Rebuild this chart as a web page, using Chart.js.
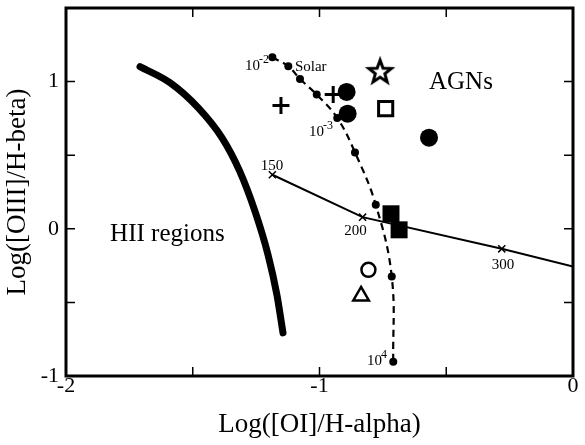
<!DOCTYPE html>
<html>
<head>
<meta charset="utf-8">
<script src="https://cdn.jsdelivr.net/npm/chart.js@4.4.1/dist/chart.umd.min.js"></script>
<style>
  html, body { margin: 0; padding: 0; background: #fff; }
  #wrap { width: 585px; height: 445px; }
</style>
</head>
<body>
<div id="wrap"><canvas id="bptChart"></canvas></div>
<script>
// HII region boundary (thick curve)
var hiiX = [-1.708, -1.590, -1.479, -1.385, -1.314, -1.254, -1.203, -1.168, -1.144];
var hiiY = [1.102, 0.993, 0.823, 0.619, 0.388, 0.116, -0.177, -0.449, -0.707];

// density / metallicity sequence (dashed curve with dots)
var seqX = [-1.186, -1.123, -1.077, -1.011, -0.930, -0.860, -0.778, -0.715, -0.709];
var seqY = [1.165, 1.104, 1.018, 0.912, 0.753, 0.519, 0.163, -0.324, -0.903];

// temperature sequence (solid line with x marks): 150, 200, 300, edge
var tempX = [-1.186, -0.830, -0.281, 0];
var tempY = [0.367, 0.079, -0.136, -0.256];

// observed objects
var plusX = [-1.152, -0.946];
var plusY = [0.837, 0.912];
var dotX = [-0.893, -0.889, -0.568];
var dotY = [0.930, 0.782, 0.619];
var openSqX = [-0.739];
var openSqY = [0.816];
var fillSqX = [-0.718, -0.686];
var fillSqY = [0.102, -0.007];
var starX = [-0.761];
var starY = [1.071];
var ringX = [-0.807];
var ringY = [-0.279];
var triX = [-0.836];
var triY = [-0.456];

// axis ticks
var xTicks = [-2, -1.5, -1, -0.5, 0];
var yTicks = [-1, -0.5, 0, 0.5, 1, 1.5];

// text labels: [x, y, text, superscript, align, size]
var notes = [
  [-1.294, 1.082, '10', '-2', 'left', 15],
  [-1.097, 1.075, 'Solar', '', 'left', 15],
  [-1.041, 0.628, '10', '-3', 'left', 15],
  [-0.813, -0.925, '10', '4', 'left', 15],
  [-1.187, 0.401, '150', '', 'center', 15],
  [-0.858, -0.041, '200', '', 'center', 15],
  [-0.276, -0.272, '300', '', 'center', 15],
  [-0.442, 0.952, 'AGNs', '', 'center', 25],
  [-1.600, -0.082, 'HII regions', '', 'center', 25]
];

function pts(xs, ys) {
  return xs.map(function (x, i) { return { x: x, y: ys[i] }; });
}

var serif = "'Liberation Serif', 'Times New Roman', serif";

// open five-point star marker
var starImg = document.createElement('canvas');
starImg.width = 30;
starImg.height = 30;
(function () {
  var c = starImg.getContext('2d');
  c.beginPath();
  for (var i = 0; i < 10; i++) {
    var r = i % 2 === 0 ? 12 : 5;
    var a = -Math.PI / 2 + i * Math.PI / 5;
    var px = 15 + r * Math.cos(a), py = 16 + r * Math.sin(a);
    if (i === 0) c.moveTo(px, py); else c.lineTo(px, py);
  }
  c.closePath();
  c.fillStyle = '#fff';
  c.fill();
  c.lineWidth = 3;
  c.lineJoin = 'miter';
  c.strokeStyle = '#000';
  c.stroke();
})();

var framePlugin = {
  id: 'frame',
  afterDraw: function (chart) {
    var ctx = chart.ctx, a = chart.chartArea;
    var xs = chart.scales.x, ys = chart.scales.y;
    ctx.save();
    ctx.strokeStyle = '#000';
    ctx.lineWidth = 1.5;
    xTicks.forEach(function (v) {
      var p = xs.getPixelForValue(v);
      ctx.beginPath();
      ctx.moveTo(p, a.bottom); ctx.lineTo(p, a.bottom - 9);
      ctx.moveTo(p, a.top); ctx.lineTo(p, a.top + 9);
      ctx.stroke();
    });
    yTicks.forEach(function (v) {
      var p = ys.getPixelForValue(v);
      ctx.beginPath();
      ctx.moveTo(a.left, p); ctx.lineTo(a.left + 9, p);
      ctx.moveTo(a.right, p); ctx.lineTo(a.right - 9, p);
      ctx.stroke();
    });
    ctx.lineWidth = 3;
    ctx.strokeRect(a.left, a.top, a.right - a.left, a.bottom - a.top);

    // text notes
    ctx.fillStyle = '#000';
    ctx.textBaseline = 'alphabetic';
    notes.forEach(function (n) {
      var px = xs.getPixelForValue(n[0]);
      var py = ys.getPixelForValue(n[1]);
      ctx.font = n[5] + 'px ' + serif;
      ctx.textAlign = n[4];
      ctx.fillText(n[2], px, py);
      if (n[3]) {
        var w = ctx.measureText(n[2]).width;
        var sx = n[4] === 'left' ? px + w : px + w / 2;
        ctx.font = Math.round(n[5] * 0.8) + 'px ' + serif;
        ctx.textAlign = 'left';
        ctx.fillText(n[3], sx - 1, py - 7);
      }
    });
    ctx.restore();
  }
};

var tickFont = { family: serif, size: 22 };

new Chart(document.getElementById('bptChart').getContext('2d'), {
  type: 'scatter',
  data: {
    datasets: [
      {
        label: 'HII',
        data: pts(hiiX, hiiY),
        showLine: true,
        borderColor: '#000',
        borderWidth: 7,
        borderCapStyle: 'round',
        cubicInterpolationMode: 'monotone',
        pointRadius: 0
      },
      {
        label: 'sequence',
        data: pts(seqX, seqY),
        showLine: true,
        borderColor: '#000',
        borderWidth: 2.2,
        borderDash: [7, 5],
        tension: 0.4,
        pointRadius: 4,
        pointBackgroundColor: '#000',
        pointBorderWidth: 0
      },
      {
        label: 'temperature',
        data: pts(tempX, tempY),
        showLine: true,
        borderColor: '#000',
        borderWidth: 2,
        tension: 0,
        pointStyle: 'crossRot',
        pointRadius: [5, 5, 5, 0],
        pointBorderWidth: 1.5,
        pointBorderColor: '#000'
      },
      {
        label: 'plus',
        data: pts(plusX, plusY),
        pointStyle: 'cross',
        pointRadius: 8.5,
        pointBorderWidth: 3,
        pointBorderColor: '#000'
      },
      {
        label: 'dots',
        data: pts(dotX, dotY),
        pointStyle: 'circle',
        pointRadius: 9,
        pointBackgroundColor: '#000',
        pointBorderWidth: 0
      },
      {
        label: 'open square',
        data: pts(openSqX, openSqY),
        pointStyle: 'rect',
        pointRadius: 10,
        pointBackgroundColor: '#fff',
        pointBorderColor: '#000',
        pointBorderWidth: 3
      },
      {
        label: 'filled squares',
        data: pts(fillSqX, fillSqY),
        pointStyle: 'rect',
        pointRadius: 12,
        pointBackgroundColor: '#000',
        pointBorderWidth: 0
      },
      {
        label: 'star',
        data: pts(starX, starY),
        pointStyle: starImg,
        pointRadius: 12
      },
      {
        label: 'ring',
        data: pts(ringX, ringY),
        pointStyle: 'circle',
        pointRadius: 7,
        pointBackgroundColor: '#fff',
        pointBorderColor: '#000',
        pointBorderWidth: 2.5
      },
      {
        label: 'triangle',
        data: pts(triX, triY),
        pointStyle: 'triangle',
        pointRadius: 9,
        pointBackgroundColor: '#fff',
        pointBorderColor: '#000',
        pointBorderWidth: 2.5
      }
    ]
  },
  options: {
    responsive: true,
    maintainAspectRatio: false,
    animation: false,
    layout: { autoPadding: false, padding: { top: 8, right: 12, left: 0, bottom: 0 } },
    plugins: {
      legend: { display: false },
      tooltip: { enabled: false }
    },
    scales: {
      x: {
        type: 'linear',
        min: -2,
        max: 0,
        afterFit: function (s) { s.height = 69; s.paddingLeft = 0; s.paddingRight = 0; },
        afterBuildTicks: function (s) { s.ticks = xTicks.map(function (v) { return { value: v }; }); },
        grid: { display: false, drawTicks: false },
        border: { display: false },
        ticks: {
          autoSkip: false,
          maxRotation: 0,
          padding: -3,
          color: '#000',
          font: tickFont,
          callback: function (v) { return Number.isInteger(v) ? String(v) : ''; }
        },
        title: {
          display: true,
          text: 'Log([OI]/H-alpha)',
          color: '#000',
          font: { family: serif, size: 27 },
          padding: { top: 0, bottom: 4 }
        }
      },
      y: {
        type: 'linear',
        min: -1,
        max: 1.5,
        afterFit: function (s) { s.width = 66; s.paddingTop = 0; s.paddingBottom = 0; },
        afterBuildTicks: function (s) { s.ticks = yTicks.map(function (v) { return { value: v }; }); },
        grid: { display: false, drawTicks: false },
        border: { display: false },
        ticks: {
          autoSkip: false,
          padding: 7,
          color: '#000',
          font: tickFont,
          callback: function (v) { return Number.isInteger(v) ? String(v) : ''; }
        },
        title: {
          display: true,
          text: 'Log([OIII]/H-beta)',
          color: '#000',
          font: { family: serif, size: 27 },
          padding: { top: 2, bottom: 0 }
        }
      }
    }
  },
  plugins: [framePlugin]
});
</script>
</body>
</html>
